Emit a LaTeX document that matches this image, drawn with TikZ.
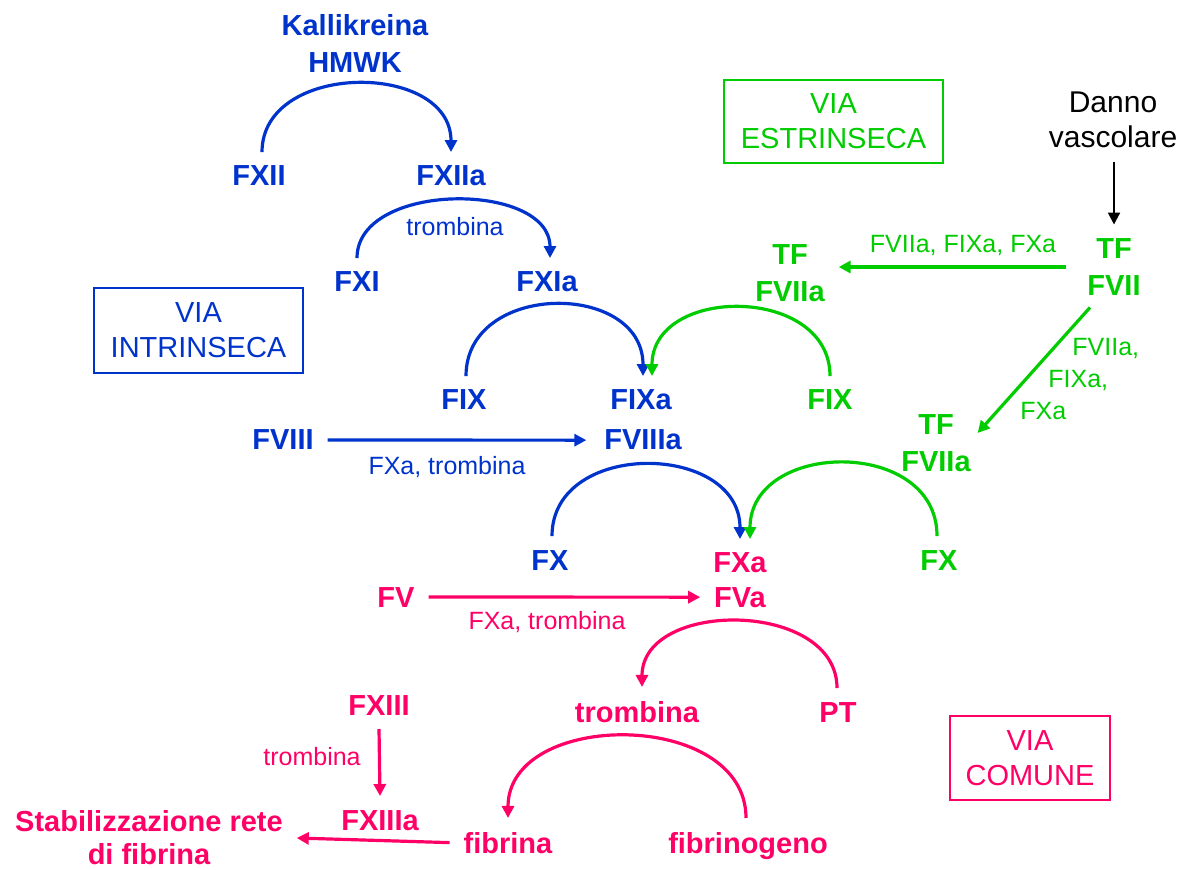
\documentclass[tikz,border=0pt]{standalone}
\usepackage{fontspec}
\setmainfont{Liberation Sans}
\usetikzlibrary{arrows.meta}
\definecolor{vblue}{RGB}{0,51,204}
\definecolor{vgreen}{RGB}{0,204,0}
\definecolor{vpink}{RGB}{255,0,102}

\begin{document}
\begin{tikzpicture}[x=0.5pt, y=-0.5pt,
    factor/.style={font=\bfseries\fontsize{14.5}{18.5}\selectfont, inner sep=3pt, outer sep=4pt},
    enzyme/.style={font=\fontsize{12.5}{16}\selectfont, inner sep=1pt},
    pathway/.style={draw, line width=0.75pt, align=center, inner sep=2pt, font=\fontsize{14.5}{17.5}\selectfont},
    flow/.style={line width=1.6pt, -{Triangle[length=6pt, width=6pt]}}
]
    \useasboundingbox (0,0) rectangle (1187,870);

    % Via intrinseca
    \node[factor, text=vblue, align=center] (kal) at (355,44) {Kallikreina\\HMWK};
    \node[factor, text=vblue, anchor=base] (fxii) at (259,186) {FXII};
    \node[factor, text=vblue, anchor=base] (fxiia) at (451,186) {FXIIa};
    \node[factor, text=vblue, anchor=base] (fxi) at (357,292) {FXI};
    \node[factor, text=vblue, anchor=base] (fxia) at (547,292) {FXIa};
    \node[factor, text=vblue, anchor=base] (fix) at (464,410) {FIX};
    \node[factor, text=vblue, anchor=base] (fixa) at (641,410) {FIXa};
    \node[factor, text=vblue, anchor=base] (fviii) at (283,450) {FVIII};
    \node[factor, text=vblue, anchor=base] (fviiia) at (643,450) {FVIIIa};
    \node[factor, text=vblue, anchor=base] (fxb) at (550,570) {FX};
    \node[enzyme, text=vblue] (trombina1) at (455,227) {trombina};
    \node[enzyme, text=vblue] (fxatromb1) at (447,467) {FXa, trombina};
    \node[pathway, draw=vblue, text=vblue, minimum width=104.5pt, minimum height=42.5pt] (intr) at (198.5,330.5) {VIA\\INTRINSECA};

    % Via estrinseca
    \node[font=\fontsize{15}{17.5}\selectfont, align=center, inner sep=3pt, outer sep=4pt] (danno) at (1113,120) {Danno\\vascolare};
    \node[factor, text=vgreen, align=center] (tffvii) at (1114,267) {TF\\FVII};
    \node[factor, text=vgreen, align=center] (tffviia) at (790,273) {TF\\FVIIa};
    \node[factor, text=vgreen, align=center] (tffviib) at (936,443) {TF\\FVIIa};
    \node[factor, text=vgreen, anchor=base] (fixg) at (830,410) {FIX};
    \node[factor, text=vgreen, anchor=base] (fxg) at (939,570) {FX};
    \node[enzyme, text=vgreen] (catest) at (963,246) {FVIIa, FIXa, FXa};
    \node[enzyme, text=vgreen, anchor=north west, inner sep=0pt, align=left] (catdiag) at (1020,338) {\hspace*{26pt}FVIIa,\\\hspace*{14pt}FIXa,\\FXa};
    \node[pathway, draw=vgreen, text=vgreen, minimum width=109.5pt, minimum height=41.5pt] (estr) at (833.5,121.5) {VIA\\ESTRINSECA};

    % Via comune
    \node[factor, text=vpink, anchor=base] (fxa) at (740,573) {FXa};
    \node[factor, text=vpink, anchor=base] (fva) at (740,607) {FVa};
    \node[factor, text=vpink, anchor=base] (fv) at (396,607) {FV};
    \node[factor, text=vpink, anchor=base] (trombina) at (637,722) {trombina};
    \node[factor, text=vpink, anchor=base] (pt) at (838,722) {PT};
    \node[factor, text=vpink, anchor=base] (fxiii) at (379,715) {FXIII};
    \node[factor, text=vpink, anchor=base] (fxiiia) at (380,830) {FXIIIa};
    \node[factor, text=vpink, anchor=base] (fibrina) at (508,853) {fibrina};
    \node[factor, text=vpink, anchor=base] (fibrinogeno) at (748,853) {fibrinogeno};
    \node[factor, text=vpink, align=center, font=\bfseries\fontsize{14.5}{16.5}\selectfont] (stab) at (149,838) {Stabilizzazione rete\\di fibrina};
    \node[enzyme, text=vpink] (fxatromb2) at (547,622) {FXa, trombina};
    \node[enzyme, text=vpink] (trombina2) at (312,757) {trombina};
    \node[pathway, draw=vpink, text=vpink, minimum width=80pt, minimum height=42pt] (com) at (1030,758) {VIA\\COMUNE};

    % Activation arcs
    \draw[flow, vblue] ([xshift=1.5pt]fxii.north) .. controls +(0,-91) and +(0,-91) .. (fxiia.north);
    \draw[flow, vblue] (fxi.north) .. controls +(0,-77) and +(0,-77) .. ([xshift=1.5pt]fxia.north);
    \draw[flow, vblue] ([xshift=1pt]fix.north) .. controls +(0,-95) and +(0,-95) .. ([xshift=1pt]fixa.north);
    \draw[flow, vgreen] (fixg.north) .. controls +(0,-91) and +(0,-91) .. ([xshift=5.5pt]fixa.north);
    \draw[flow, vblue] ([xshift=1pt]fxb.north) .. controls +(0,-97) and +(0,-97) .. (fxa.north);
    \draw[flow, vgreen] ([xshift=-1pt]fxg.north) .. controls +(0,-99) and +(0,-99) .. ([xshift=5pt]fxa.north);
    \draw[flow, vpink] ([xshift=-0.5pt]pt.north) .. controls +(0,-88) and +(0,-88) .. ([xshift=2.5pt]trombina.north);
    \draw[flow, vpink] ([xshift=-1pt]fibrinogeno.north) .. controls +(0,-109) and +(0,-109) .. (fibrina.north);

    % Straight arrows
    \draw[flow, vblue, shorten >=2pt] (fviii.east) -- (fviiia.west);
    \draw[flow, vpink] (fv.east) -- (fva.west);
    \draw[flow, vgreen, shorten <=3.5pt] (tffvii.west) -- (tffvii.west -| tffviia.east);
    \draw[flow, vgreen] ([xshift=-12pt,yshift=1pt]tffvii.south) -- ([xshift=-3.5pt,yshift=5pt]tffviib.east);
    \draw[flow, black, line width=1pt] (tffvii.north |- danno.south) -- (tffvii.north);
    \draw[flow, vpink] (fxiii.south) -- (fxiiia.north);
    \draw[flow, vpink] (fibrina.west) -- (stab.east);
\end{tikzpicture}
\end{document}
